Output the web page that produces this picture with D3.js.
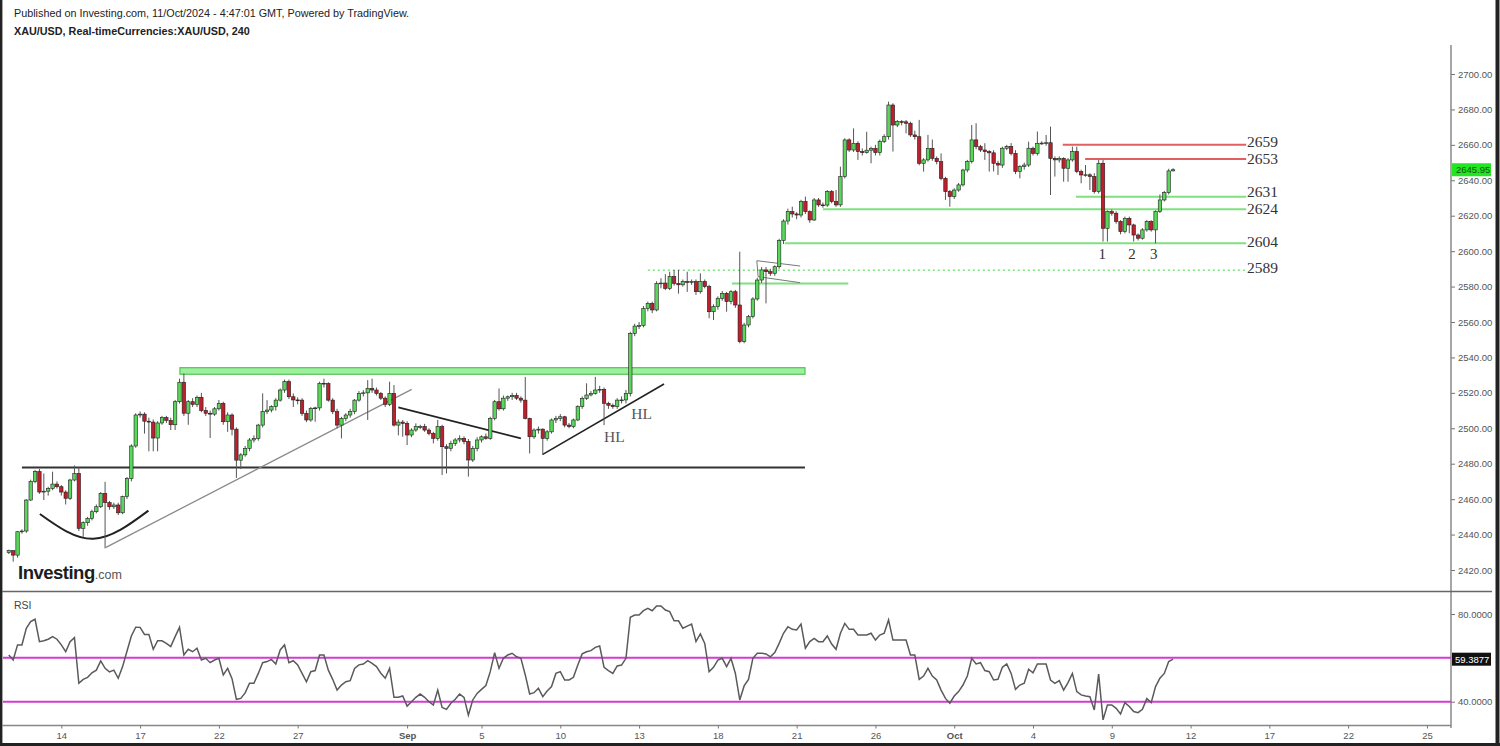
<!DOCTYPE html>
<html><head><meta charset="utf-8">
<script src="https://cdn.jsdelivr.net/npm/d3@7"></script>
<style>body{margin:0;background:#fff;} svg{display:block;font-family:"Liberation Sans",Arial,sans-serif;}</style>
</head><body><svg id="c" width="1500" height="746"></svg>
<script>
// ---------- DATA (4H XAU/USD candles) ----------
const opens = [2429.8,2430.9,2428.4,2441.6,2442,2459.5,2470,2475.5,2464,2464.5,2466,2468.5,2467,2464,2460.5,2470.8,2474.5,2443.5,2446.7,2449.1,2452.9,2455.7,2463.2,2458,2455.7,2456.7,2452.3,2461.4,2471.7,2490,2507.5,2508,2504,2503.5,2494.5,2503,2506,2504.5,2502,2515,2526,2508.5,2515,2513.5,2517.5,2510,2508.5,2508,2511,2514,2503.7,2507.5,2499.5,2482,2485,2488.7,2493.4,2494.3,2501.8,2509.4,2510.3,2512.2,2515.9,2521.6,2526.3,2517.8,2516,2515.9,2508.4,2504.7,2511.2,2511.5,2525.4,2525.2,2515.9,2509.4,2501.8,2505.6,2507.5,2509.4,2515.9,2519.7,2520,2522.5,2521.6,2519.7,2517,2513.5,2519.7,2501.8,2503.5,2502.8,2496.2,2499,2500.9,2501,2499,2497.1,2494.3,2500.9,2489.6,2488.7,2491.5,2493.4,2494.3,2492.5,2482.1,2488.7,2493.4,2495.2,2494.3,2505.6,2515,2511,2517,2517.8,2518.5,2517,2515.9,2505.6,2495.2,2499,2499.5,2494.3,2498,2504.7,2505.6,2506.5,2501.8,2501,2504.7,2512.2,2516.9,2518.8,2519.7,2521.6,2522,2514.1,2513,2512.2,2515.9,2516,2519.7,2553.6,2557.7,2558,2567.7,2570.5,2566.8,2581.8,2582,2579,2585.6,2581.8,2581,2582.8,2582.5,2582.8,2577.1,2582.8,2580,2565.8,2568.7,2573.4,2576.2,2571.5,2577.1,2569.6,2548.9,2558.3,2563,2573,2583.7,2589.4,2588.4,2587.5,2591.2,2606,2617,2622.3,2621,2620.4,2628,2622.3,2617.6,2628.9,2626.1,2626,2633.6,2628,2626.1,2642.1,2662.8,2657.1,2660.9,2656.2,2655.6,2657,2658,2655.6,2661.8,2664.6,2682.5,2671.2,2673.1,2673,2672.2,2665.6,2664.6,2649.6,2651.5,2658,2652.4,2650.5,2641.1,2633.6,2630.8,2634.5,2637.4,2645.8,2650.5,2662.8,2659,2657.1,2656.2,2655.5,2649.6,2648.6,2658.1,2659,2655.2,2644.9,2647.7,2648.6,2658.1,2655.2,2660.9,2661,2661.2,2652.4,2651.5,2652.4,2646.8,2651.5,2656.2,2644.9,2643,2643.1,2642.1,2633.6,2649.6,2612.9,2622.3,2621.4,2616.7,2611,2618.5,2614.8,2609.1,2607.3,2612,2616.7,2612,2622.3,2628.9,2633,2645.3];
const highs = [2431.5,2431,2442,2443,2460,2471,2476.5,2477,2474.5,2467,2475.5,2470,2468,2465,2471.5,2479,2478,2447.5,2450,2454,2457,2464,2469.8,2459,2458,2458,2462,2472.5,2491,2508.5,2509.5,2509,2506,2505,2504,2507,2507,2506,2516,2528,2531,2516,2517,2518.5,2520,2512,2510,2512,2516,2515,2509,2508.5,2500.5,2486,2490,2494.5,2496,2502.5,2519.7,2515.9,2513,2517,2522.5,2527.5,2527.5,2519.7,2517.5,2517,2510,2512,2512.2,2526.3,2528,2526,2517,2511,2506.5,2508.5,2511,2516.5,2521,2521.5,2527.2,2528,2523,2520.5,2518,2526.3,2524.4,2505,2504.7,2504,2500,2502.8,2502,2502.5,2500,2498,2504.7,2502,2491,2493,2494.5,2496,2495.5,2494,2490,2495,2496,2497,2506.5,2516,2522.5,2518.5,2518.5,2520,2520,2518,2529,2506,2500,2501,2500,2499,2505.5,2507,2508,2507,2503,2505.5,2513,2518,2525.4,2521,2529,2524,2523,2515,2514,2517,2518,2521.6,2554.5,2559,2560,2569,2571.5,2571.5,2583,2584.7,2587,2588.4,2589.4,2589.4,2584,2588.4,2584,2584,2587.5,2584,2581,2570,2574.5,2577.5,2577,2578,2578.1,2599.7,2559.5,2564,2574,2585,2591,2591,2590,2592,2607,2618,2624,2625.1,2622,2629,2630.8,2623,2630,2630,2627.5,2634.5,2634.5,2634.5,2647.7,2663.7,2663.7,2669.3,2662,2658,2667.4,2659,2660,2663,2666,2684.4,2683.5,2674,2674,2674,2673.1,2668,2674.1,2652.5,2665.6,2663,2653.5,2655.2,2642,2634.5,2635.5,2638.5,2646.5,2651.5,2671.2,2672.2,2660,2660.9,2657,2657,2651,2659,2660,2661,2657,2648.5,2650,2661.8,2659,2667.5,2662,2665.6,2670.3,2653.5,2653.5,2653,2652.5,2659,2659,2646,2648.6,2644,2644,2651.5,2651.5,2623,2623.5,2622.5,2617.5,2619.5,2619.5,2615.5,2610,2613,2617.5,2617.5,2623,2632,2634,2646.5,2646.8];
const lows = [2429,2424.7,2427,2440.5,2441,2459,2469,2463,2459.5,2462,2465,2466,2462,2457,2459.5,2470,2442,2438.8,2445,2448,2452,2455,2432.2,2454,2454.5,2451,2451.5,2460,2470,2489,2506,2497,2487,2487,2487,2502,2503,2499,2499,2514,2507,2502,2512,2512,2509,2507,2494.5,2507,2510,2502,2498,2496,2472,2477,2484,2487,2492,2493,2500.5,2508,2509,2510,2515,2520,2516.5,2512,2513.5,2507,2503.5,2503.7,2503.7,2510,2523,2515,2508,2500,2494.3,2504,2506,2508,2515,2518,2504.7,2520,2518.5,2516,2512,2512.5,2501,2496,2495.2,2490.5,2495,2498,2499.5,2498,2496,2491.5,2493,2473.6,2474.5,2487,2490,2492,2491,2472.7,2481,2487,2492,2493.5,2493.5,2504.5,2510,2510,2515.5,2516,2516,2514.5,2505,2485.8,2494,2497,2484.9,2493,2497,2503,2504,2500.5,2500,2500,2504,2511,2516,2518,2519,2520,2501.8,2511,2511,2511,2514,2514,2518,2552,2556,2557,2566,2565,2566,2579,2578,2578,2580.5,2576,2580,2577,2581,2575.3,2576,2579,2562.1,2561.1,2567,2572,2565.8,2570,2568,2548,2548,2557,2562,2572,2582,2570.5,2586,2586,2590,2604,2615,2619,2618,2619,2621,2616,2617,2625,2624.5,2625,2627,2625,2625,2641,2656,2656,2651.5,2654,2655,2649.6,2654,2654,2661,2663,2656.2,2670,2671,2666.5,2664.5,2663,2648.5,2644.9,2650.5,2651,2649,2640,2628.9,2625.1,2629.5,2633.5,2636.5,2644.5,2649.5,2657.5,2656,2651.5,2644.9,2645,2643,2647,2657,2654,2643.5,2641.1,2646,2647.5,2654,2654,2660,2659.5,2631.7,2642.1,2650,2639.2,2639.2,2650.5,2644,2638.3,2642,2634.5,2632.5,2632.5,2605.4,2605.4,2620,2615.5,2609.5,2610,2610.1,2605.4,2606,2606.5,2611,2611,2604.4,2621.5,2628,2632,2645];
const closes = [2430.9,2428.4,2441.6,2442,2459.5,2470,2475.5,2464,2464.5,2466,2468.5,2467,2464,2460.5,2470.8,2474.5,2443.5,2446.7,2449.1,2452.9,2455.7,2463.2,2458,2455.7,2456.7,2452.3,2461.4,2471.7,2490,2507.5,2508,2504,2503.5,2494.5,2503,2506,2504.5,2502,2515,2526,2508.5,2515,2513.5,2517.5,2510,2508.5,2508,2511,2514,2503.7,2507.5,2499.5,2482,2485,2488.7,2493.4,2494.3,2501.8,2509.4,2510.3,2512.2,2515.9,2521.6,2526.3,2517.8,2516,2515.9,2508.4,2504.7,2511.2,2511.5,2525.4,2525.2,2515.9,2509.4,2501.8,2505.6,2507.5,2509.4,2515.9,2519.7,2520,2522.5,2521.6,2519.7,2517,2513.5,2519.7,2501.8,2503.5,2502.8,2496.2,2499,2500.9,2501,2499,2497.1,2494.3,2500.9,2489.6,2488.7,2491.5,2493.4,2494.3,2492.5,2482.1,2488.7,2493.4,2495.2,2494.3,2505.6,2515,2511,2517,2517.8,2518.5,2517,2515.9,2505.6,2495.2,2499,2499.5,2494.3,2498,2504.7,2505.6,2506.5,2501.8,2501,2504.7,2512.2,2516.9,2518.8,2519.7,2521.6,2522,2514.1,2513,2512.2,2515.9,2516,2519.7,2553.6,2557.7,2558,2567.7,2570.5,2566.8,2581.8,2582,2579,2585.6,2581.8,2581,2582.8,2582.5,2582.8,2577.1,2582.8,2580,2565.8,2568.7,2573.4,2576.2,2571.5,2577.1,2569.6,2548.9,2558.3,2563,2573,2583.7,2589.4,2588.4,2587.5,2591.2,2606,2617,2622.3,2621,2620.4,2628,2622.3,2617.6,2628.9,2626.1,2626,2633.6,2628,2626.1,2642.1,2662.8,2657.1,2660.9,2656.2,2655.6,2657,2658,2655.6,2661.8,2664.6,2682.5,2671.2,2673.1,2673,2672.2,2665.6,2664.6,2649.6,2651.5,2658,2652.4,2650.5,2641.1,2633.6,2630.8,2634.5,2637.4,2645.8,2650.5,2662.8,2659,2657.1,2656.2,2655.5,2649.6,2648.6,2658.1,2659,2655.2,2644.9,2647.7,2648.6,2658.1,2655.2,2660.9,2661,2661.2,2652.4,2651.5,2652.4,2646.8,2651.5,2656.2,2644.9,2643,2643.1,2642.1,2633.6,2649.6,2612.9,2622.3,2621.4,2616.7,2611,2618.5,2614.8,2609.1,2607.3,2612,2616.7,2612,2622.3,2628.9,2633,2645.3,2645.95];
const rsiValues = [61.3,59.0,65.9,65.9,73.5,76.5,77.6,67.4,67.8,68.5,69.7,68.5,65.9,62.8,67.4,69.2,48.4,50.2,51.1,53.2,54.4,58.6,55.2,53.6,54.4,50.7,56.0,63.0,70.0,74.0,73.9,70.7,70.7,63.9,67.8,67.8,66.6,65.1,69.7,73.9,61.3,63.9,62.8,64.4,59.0,59.8,57.8,59.0,59.8,52.2,55.2,50.5,41.1,41.5,44.0,48.4,48.4,52.9,57.8,58.3,59.3,57.2,63.6,65.9,57.8,58.7,56.8,52.9,49.1,53.7,54.2,61.3,61.3,54.4,50.2,45.3,47.6,49.1,49.6,55.2,56.8,57.2,58.7,57.5,56.0,53.0,50.7,55.2,42.0,42.0,42.6,38.0,40.0,42.0,43.5,42.0,40.0,38.5,45.3,37.4,36.5,39.3,41.1,43.5,42.0,33.9,40.8,43.8,45.6,47.4,53.7,62.4,55.2,59.8,61.3,62.1,60.5,59.8,52.2,43.5,44.1,46.1,42.3,44.9,46.9,52.9,53.7,49.9,49.9,51.1,56.7,61.8,62.8,63.3,64.8,65.4,55.7,54.2,52.9,56.3,56.7,59.8,78.5,79.5,79.5,81.5,82.6,81.5,83.7,83.7,81.8,81.1,76.9,76.9,73.5,74.5,75.4,67.4,70.9,66.6,53.7,55.7,59.0,59.8,56.0,59.8,52.9,40.8,47.2,50.2,59.8,62.1,62.1,61.8,60.5,62.4,66.6,71.2,74.2,73.0,72.7,75.4,64.4,67.4,68.9,67.4,67.4,70.0,66.3,63.9,71.2,75.7,73.0,73.0,70.4,70.4,70.4,71.2,68.1,70.4,71.2,77.3,68.1,68.1,68.1,68.1,61.3,61.3,50.2,51.7,55.2,51.7,49.9,45.3,41.5,39.3,42.6,44.6,47.6,51.7,59.8,57.2,57.8,54.2,53.7,49.9,50.2,55.7,57.2,52.9,45.6,47.6,48.4,54.8,53.2,57.2,57.2,57.2,49.9,48.4,49.6,45.3,48.7,52.9,44.6,43.1,42.6,42.3,36.2,52.6,31.7,38.5,38.5,37.0,34.4,39.6,37.8,35.5,35.0,36.5,41.4,39.6,46.9,50.7,52.9,58.3,59.39];

const priceTicks = [2420,2440,2460,2480,2500,2520,2540,2560,2580,2600,2620,2640,2660,2680,2700];
const rsiTicks = [40,80];
const rsiBands = [40,60];
const dateTickBars = [12,30,48,66,91,108,126,144,162,180,198,216,234,252,270,288,306,324];
const dateTickLabels = ["14","17","22","27","Sep","5","10","13","18","21","26","Oct","4","9","12","17","22","25"];
const lastPrice = 2645.95;
const lastRsi = 59.3877;

// annotations (bar index, price)
const greenLevels = [[186.0,282.7,2623.6],[177.3,282.7,2604.4],[243.8,282.7,2630.7],[165.2,191.8,2581.8]];
const dottedLevel = [146.0,282.7,2589.2];
const redLevels = [[240.8,282.7,2660.1],[245.9,282.7,2652.0]];
const zoneBand = [39.1,181.9,2530.5,2534.2];
const blackLevel = [3.0,181.9,2477.8];
const trendLines = [
  {p:[[22.2,2432.8],[92.05,2522.0]], c:"#8a8a8a", w:1.3},
  {p:[[89.0,2511.8],[117.0,2494.3]], c:"#222", w:1.6},
  {p:[[122.0,2485.3],[149.7,2525.0]], c:"#222", w:1.6},
  {p:[[170.9,2594.6],[180.8,2591.6]], c:"#777", w:1},
  {p:[[171.2,2585.6],[180.8,2582.2]], c:"#777", w:1},
  {p:[[170.9,2594.6],[171.2,2585.6]], c:"#777", w:1}
];
const cupArc = [[7.1,2451.6],[19.3,2437.6],[31.9,2453.5]];
const levelLabels = ["2659","2653","2631","2624","2604","2589"];
const levelLabelPrices = [2661.8,2652.0,2633.6,2623.8,2605.3,2590.9];
const waveLabels = ["1","2","3"];
const waveLabelBars = [249.8,256.6,261.6];
const hlLabels = [[136.0,2492.3],[142.2,2505.2]];

// ---------- SCALES ----------
const svg = d3.select("#c");
const x = d3.scaleLinear().domain([0,329.5]).range([8.8,1451]);
const y = d3.scaleLinear().domain([2420,2700]).range([570,74]);
const yr = d3.scaleLinear().domain([40,80]).range([701.7,614]);
const N = closes.length;
const bars = d3.range(N);

// ---------- FRAME ----------
svg.append("rect").attr("width",1500).attr("height",746).attr("fill","#fff");
svg.append("line").attr("x1",1.2).attr("x2",1.2).attr("y1",0).attr("y2",746).attr("stroke","#222").attr("stroke-width",2.4);
svg.append("line").attr("x1",1497.5).attr("x2",1497.5).attr("y1",0).attr("y2",746).attr("stroke","#222").attr("stroke-width",4);
svg.append("line").attr("x1",0).attr("x2",1500).attr("y1",744.5).attr("y2",744.5).attr("stroke","#222").attr("stroke-width",3);
svg.append("line").attr("x1",1451).attr("x2",1451).attr("y1",45).attr("y2",728).attr("stroke","#777").attr("stroke-width",1.3);
svg.append("line").attr("x1",2).attr("x2",1492).attr("y1",591.5).attr("y2",591.5).attr("stroke","#666").attr("stroke-width",1.3);
svg.append("line").attr("x1",2).attr("x2",1451).attr("y1",725.5).attr("y2",725.5).attr("stroke","#888").attr("stroke-width",1.3);

// header
svg.append("text").attr("x",14).attr("y",17).attr("font-size",10.8).attr("fill","#222")
  .text("Published on Investing.com, 11/Oct/2024 - 4:47:01 GMT, Powered by TradingView.");
svg.append("text").attr("x",14).attr("y",35).attr("font-size",10.8).attr("font-weight","bold").attr("fill","#222")
  .text("XAU/USD, Real-timeCurrencies:XAU/USD, 240");

// watermark
const wm = svg.append("text").attr("x",18).attr("y",579);
wm.append("tspan").attr("font-size",18.5).attr("font-weight","bold").attr("fill","#1d1d1d").attr("letter-spacing",-0.5).text("Investing");
wm.append("tspan").attr("font-size",12.5).attr("fill","#555").text(".com");

// ---------- ANNOTATIONS (under candles) ----------
const ann = svg.append("g");
ann.append("rect").attr("x",x(zoneBand[0])).attr("width",x(zoneBand[1])-x(zoneBand[0]))
  .attr("y",y(zoneBand[3])).attr("height",y(zoneBand[2])-y(zoneBand[3]))
  .attr("fill","#9ef09e").attr("stroke","#52c452").attr("stroke-width",1.2);
ann.append("line").attr("x1",x(blackLevel[0])).attr("x2",x(blackLevel[1])).attr("y1",y(blackLevel[2])).attr("y2",y(blackLevel[2]))
  .attr("stroke","#333").attr("stroke-width",2);
ann.selectAll("line.gl").data(greenLevels).join("line").attr("class","gl")
  .attr("x1",d=>x(d[0])).attr("x2",d=>x(d[1])).attr("y1",d=>y(d[2])).attr("y2",d=>y(d[2]))
  .attr("stroke","#7fe07f").attr("stroke-width",2);
ann.append("line").attr("x1",x(dottedLevel[0])).attr("x2",x(dottedLevel[1])).attr("y1",y(dottedLevel[2])).attr("y2",y(dottedLevel[2]))
  .attr("stroke","#7fe07f").attr("stroke-width",1.6).attr("stroke-dasharray","2,3");
ann.selectAll("line.rl").data(redLevels).join("line").attr("class","rl")
  .attr("x1",d=>x(d[0])).attr("x2",d=>x(d[1])).attr("y1",d=>y(d[2])).attr("y2",d=>y(d[2]))
  .attr("stroke","#e06060").attr("stroke-width",2);
ann.selectAll("line.tl").data(trendLines).join("line").attr("class","tl")
  .attr("x1",d=>x(d.p[0][0])).attr("y1",d=>y(d.p[0][1])).attr("x2",d=>x(d.p[1][0])).attr("y2",d=>y(d.p[1][1]))
  .attr("stroke",d=>d.c).attr("stroke-width",d=>d.w);
ann.append("path").attr("d",d3.line().x(d=>x(d[0])).y(d=>y(d[1])).curve(d3.curveNatural)(cupArc))
  .attr("fill","none").attr("stroke","#222").attr("stroke-width",2);

// ---------- CANDLES ----------
const cg = svg.append("g");
const bw = 3.4;
cg.selectAll("line.wick").data(bars).join("line").attr("class","wick")
  .attr("x1",i=>x(i)).attr("x2",i=>x(i)).attr("y1",i=>y(highs[i])).attr("y2",i=>y(lows[i]))
  .attr("stroke","#555").attr("stroke-width",1);
cg.selectAll("rect.body").data(bars).join("rect").attr("class","body")
  .attr("x",i=>x(i)-bw/2).attr("width",bw)
  .attr("y",i=>y(Math.max(opens[i],closes[i])))
  .attr("height",i=>Math.max(0.8,Math.abs(y(opens[i])-y(closes[i]))))
  .attr("fill",i=>closes[i]>=opens[i]?"#5ad65a":"#bd1f2c")
  .attr("stroke","#1e1e1e").attr("stroke-width",0.6);

// ---------- TEXT ANNOTATIONS ----------
const serif = '"Liberation Serif","Times New Roman",serif';
svg.selectAll("text.lvl").data(levelLabels).join("text").attr("class","lvl")
  .attr("x",x(282.9)).attr("y",(d,i)=>y(levelLabelPrices[i])).attr("dy","0.35em")
  .attr("font-family",serif).attr("font-size",15.5).attr("fill","#333").text(d=>d);
svg.selectAll("text.wave").data(waveLabels).join("text").attr("class","wave")
  .attr("x",(d,i)=>x(waveLabelBars[i])).attr("y",y(2598.3)).attr("dy","0.35em").attr("text-anchor","middle")
  .attr("font-family",serif).attr("font-size",15).attr("fill","#333").text(d=>d);
svg.selectAll("text.hl").data(hlLabels).join("text").attr("class","hl")
  .attr("x",d=>x(d[0])).attr("y",d=>y(d[1]))
  .attr("font-family",serif).attr("font-size",15.5).attr("fill","#555").text("HL");

// ---------- PRICE AXIS ----------
const pa = svg.append("g").attr("transform","translate(1451,0)")
  .call(d3.axisRight(y).tickValues(priceTicks).tickFormat(d3.format(".2f")).tickSize(4).tickPadding(3));
pa.select(".domain").remove();
pa.selectAll("line").attr("stroke","#777");
pa.selectAll("text").attr("font-size",9.5).attr("fill","#555").attr("font-family",'"Liberation Sans",Arial,sans-serif');
svg.append("rect").attr("x",1452).attr("y",y(lastPrice)-6.5).attr("width",39).attr("height",13).attr("fill","#22e622");
svg.append("text").attr("x",1456).attr("y",y(lastPrice)).attr("dy","0.35em").attr("font-size",9.5).attr("fill","#145214").text(lastPrice.toFixed(2));

// ---------- RSI PANEL ----------
svg.append("text").attr("x",14).attr("y",609).attr("font-size",10.5).attr("fill","#444").text("RSI");
svg.selectAll("line.band").data(rsiBands).join("line").attr("class","band")
  .attr("x1",3).attr("x2",1451).attr("y1",d=>yr(d)).attr("y2",d=>yr(d))
  .attr("stroke","#d23cd2").attr("stroke-width",2);
svg.append("path").datum(bars)
  .attr("d",d3.line().x(i=>x(i)).y(i=>yr(rsiValues[i])))
  .attr("fill","none").attr("stroke","#5a5a5a").attr("stroke-width",1.5);
const ra = svg.append("g").attr("transform","translate(1451,0)")
  .call(d3.axisRight(yr).tickValues(rsiTicks).tickFormat(d3.format(".4f")).tickSize(4).tickPadding(3));
ra.select(".domain").remove();
ra.selectAll("line").attr("stroke","#777");
ra.selectAll("text").attr("font-size",9.5).attr("fill","#555").attr("font-family",'"Liberation Sans",Arial,sans-serif');
svg.append("rect").attr("x",1452).attr("y",yr(lastRsi)-6.5).attr("width",39).attr("height",13).attr("fill","#111");
svg.append("text").attr("x",1455).attr("y",yr(lastRsi)).attr("dy","0.35em").attr("font-size",9.5).attr("fill","#fff").text(lastRsi.toFixed(4));

// ---------- DATE AXIS ----------
const da = svg.append("g").attr("transform","translate(0,725.5)")
  .call(d3.axisBottom(x).tickValues(dateTickBars).tickFormat((d,i)=>dateTickLabels[i]).tickSize(3).tickPadding(4));
da.select(".domain").remove();
da.selectAll("line").attr("stroke","#777");
da.selectAll("text").attr("font-size",9.5).attr("fill","#555").attr("font-family",'"Liberation Sans",Arial,sans-serif')
  .attr("font-weight",(d,i)=>/[A-Za-z]/.test(dateTickLabels[i])?"bold":"normal");
</script></body></html>
